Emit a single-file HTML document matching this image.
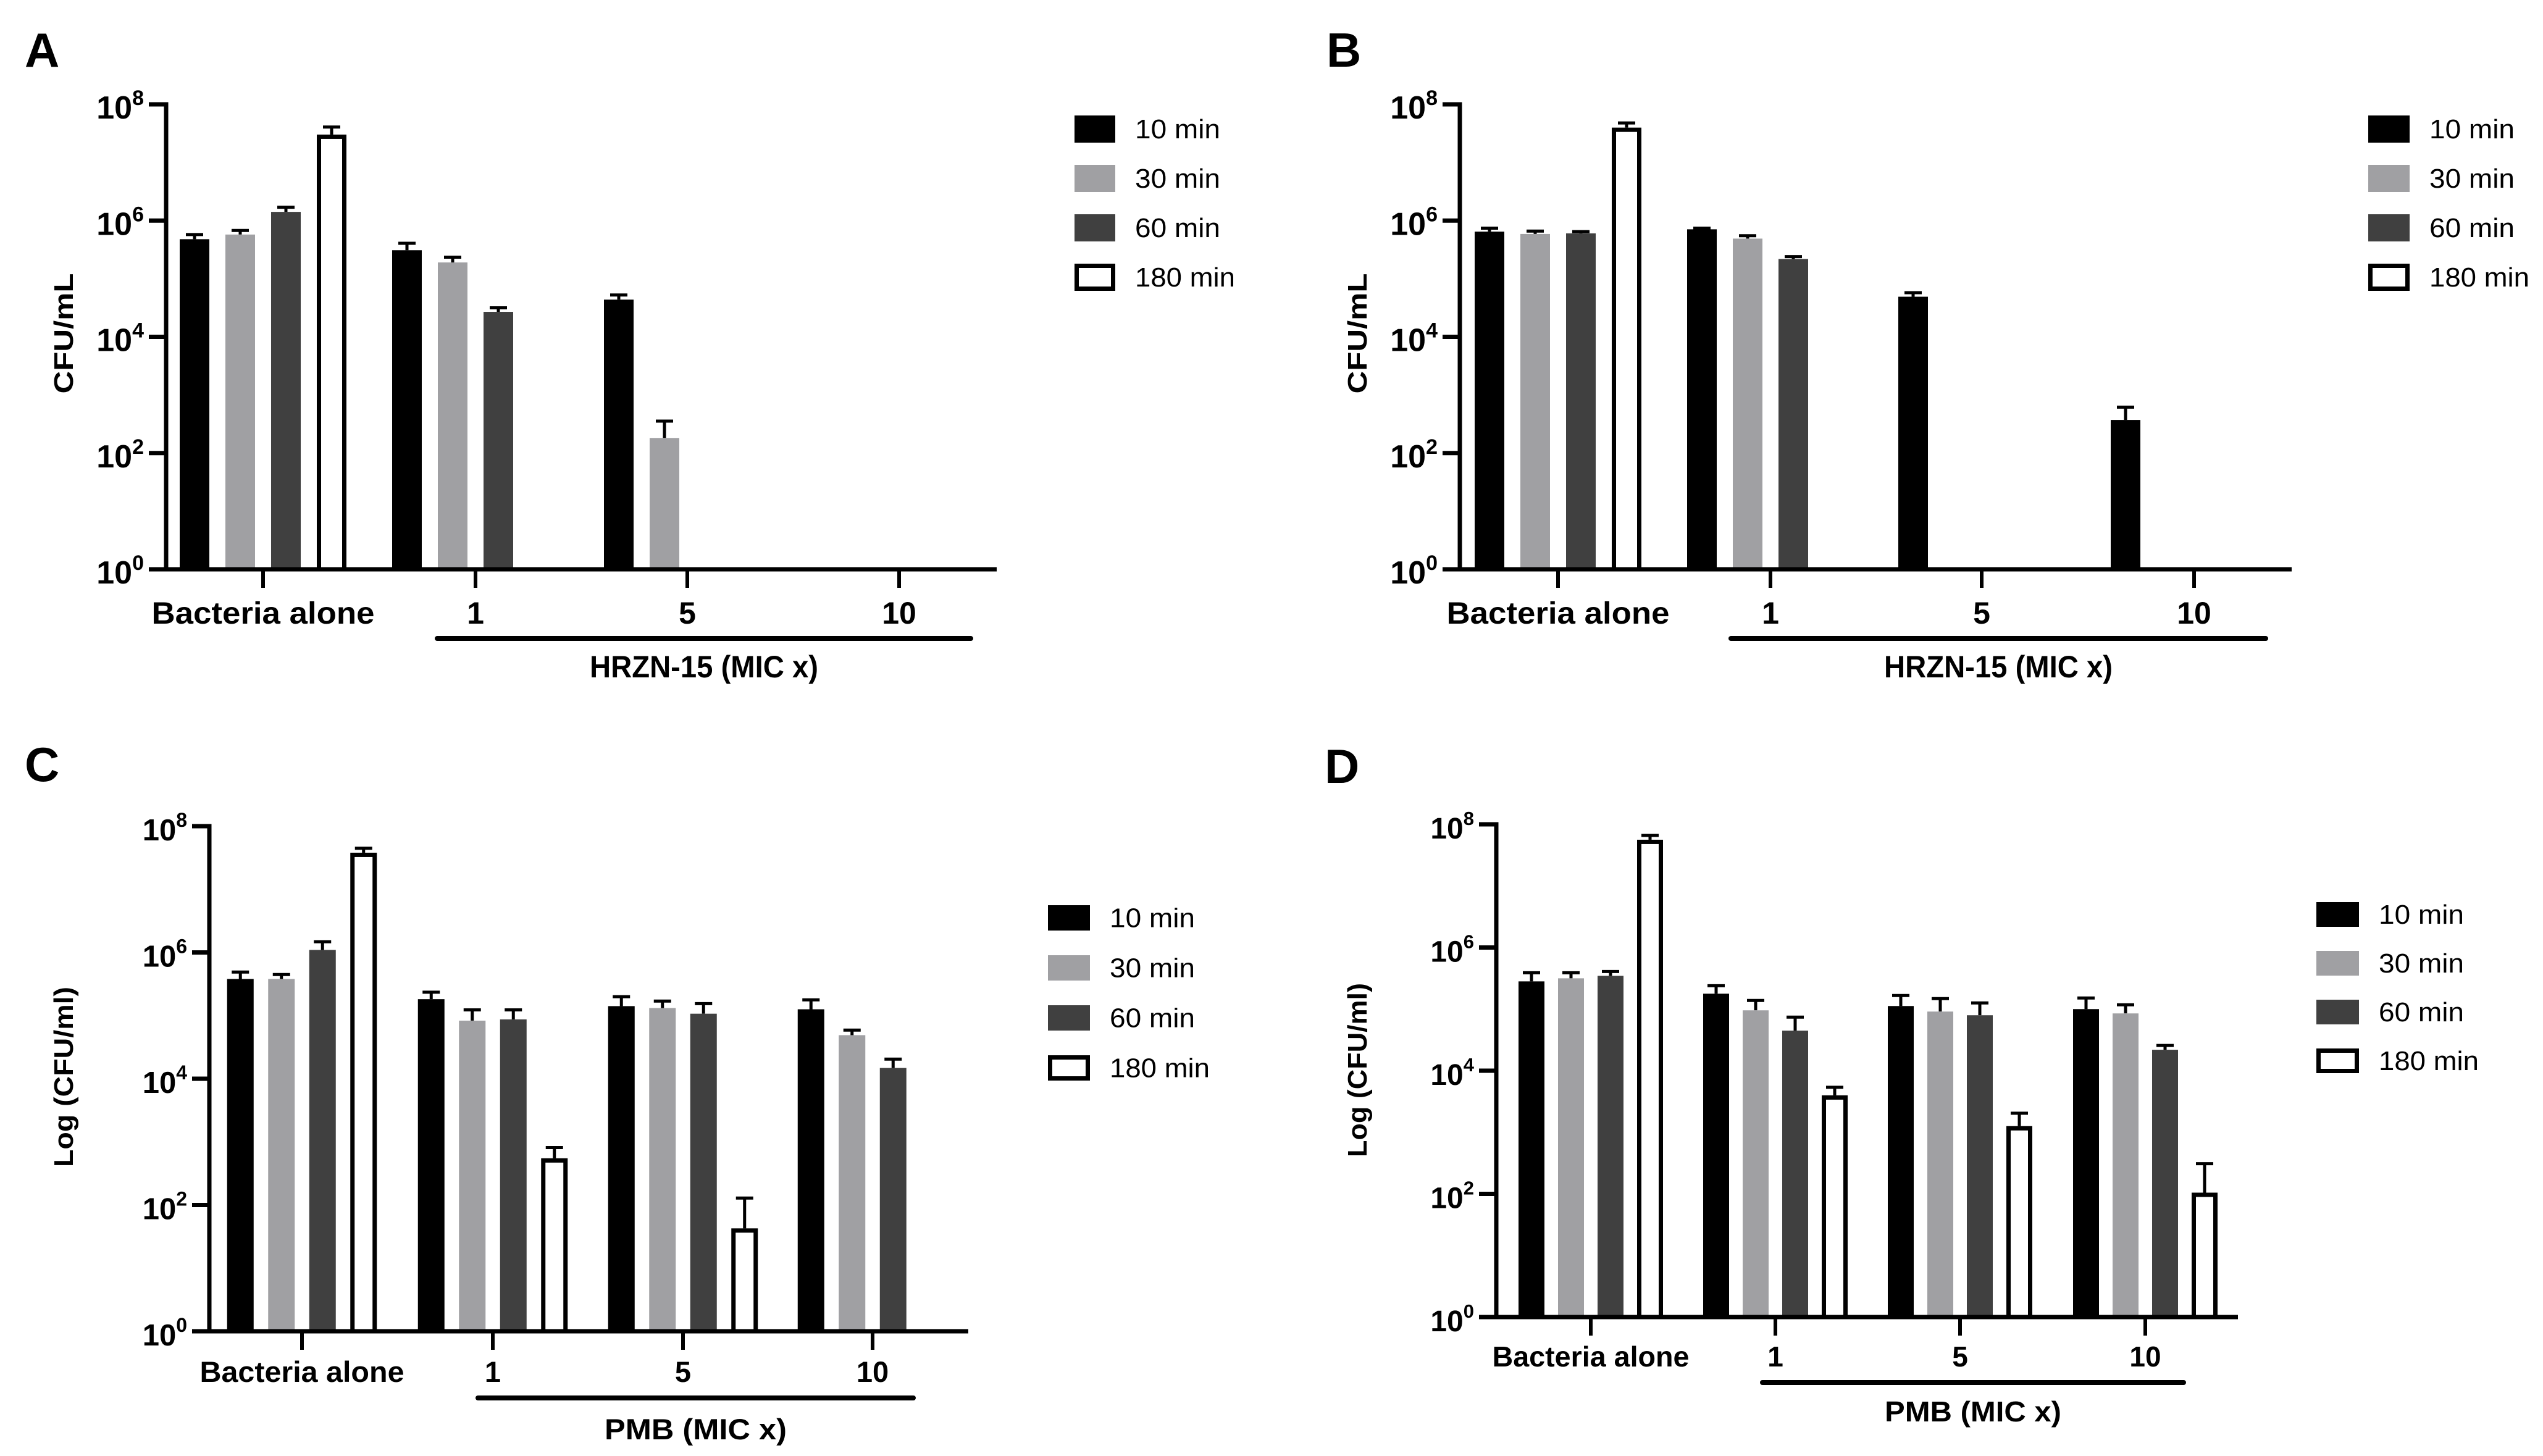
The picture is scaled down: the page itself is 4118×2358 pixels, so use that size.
<!DOCTYPE html>
<html><head><meta charset="utf-8"><style>
html,body{margin:0;padding:0;background:#fff;}
svg{display:block;}
</style></head><body>
<svg id="fig" width="4118" height="2358" viewBox="0 0 4118 2358" xmlns="http://www.w3.org/2000/svg"></svg>
<script>
// Data (log10 CFU values; null = no bar)
const groupsA = ["Bacteria alone","1","5","10"];
const seriesNames = ["10 min","30 min","60 min","180 min"];
const seriesColors = ["#000000","#a0a0a3","#404040","#ffffff"];
const a10 = [5.68,5.49,4.64,null];
const a30 = [5.76,5.28,2.26,null];
const a60 = [6.15,4.43,null,null];
const a180 = [7.48,null,null,null];
const aErr10 = [5.76,5.61,4.72,null];
const aErr30 = [5.83,5.37,2.55,null];
const aErr60 = [6.23,4.50,null,null];
const aErr180 = [7.61,null,null,null];

const b10 = [5.81,5.85,4.69,2.57];
const b30 = [5.77,5.69,null,null];
const b60 = [5.78,5.34,null,null];
const b180 = [7.60,null,null,null];
const bErr10 = [5.87,5.87,4.76,2.79];
const bErr30 = [5.82,5.74,null,null];
const bErr60 = [5.81,5.38,null,null];
const bErr180 = [7.68,null,null,null];

const c10 = [5.58,5.26,5.15,5.10];
const c30 = [5.58,4.92,5.12,4.69];
const c60 = [6.04,4.94,5.03,4.17];
const c180 = [7.58,2.74,1.63,null];
const cErr10 = [5.69,5.37,5.30,5.25];
const cErr30 = [5.65,5.09,5.23,4.77];
const cErr60 = [6.17,5.09,5.19,4.31];
const cErr180 = [7.65,2.91,2.11,null];

const d10 = [5.45,5.25,5.05,5.00];
const d30 = [5.50,4.98,4.96,4.93];
const d60 = [5.54,4.65,4.90,4.34];
const d180 = [7.75,3.60,3.10,2.02];
const dErr10 = [5.59,5.38,5.22,5.18];
const dErr30 = [5.59,5.14,5.17,5.07];
const dErr60 = [5.61,4.87,5.10,4.41];
const dErr180 = [7.82,3.73,3.31,2.49];

const yTickExps = [0,2,4,6,8];

const NS = "http://www.w3.org/2000/svg";
const svg = document.getElementById('fig');
function mk(tag, attrs, parent){
  const e = document.createElementNS(NS, tag);
  for (const k in attrs) e.setAttribute(k, attrs[k]);
  (parent||svg).appendChild(e);
  return e;
}

const panels = [
  {id:'a', letter:'A', lx:40, ly:108, axisX:269, yTop:169, yBot:922, xEnd:1614, centers:[426,770,1113,1456], pitch:74, barW:48,
   vals:[a10,a30,a60,a180], errs:[aErr10,aErr30,aErr60,aErr180], legX:1740, legY:187, legW:66, legH:44, legStep:80,
   tickLblY:1010, lineY:1034, lineX1:708, lineX2:1572, titleY:1097, title:"HRZN-15 (MIC x)", titleW:370, ytitle:"CFU/mL", ytX:118, ytY:540, ytW:195, catW:361, fs:50},
  {id:'b', letter:'B', lx:2148, ly:108, axisX:2364, yTop:169, yBot:922, xEnd:3711, centers:[2523,2867,3209,3553], pitch:74, barW:48,
   vals:[b10,b30,b60,b180], errs:[bErr10,bErr30,bErr60,bErr180], legX:3835, legY:187, legW:67, legH:44, legStep:80,
   tickLblY:1010, lineY:1034, lineX1:2803, lineX2:3669, titleY:1097, title:"HRZN-15 (MIC x)", titleW:370, ytitle:"CFU/mL", ytX:2213, ytY:540, ytW:195, catW:361, fs:50},
  {id:'c', letter:'C', lx:40, ly:1265, axisX:339, yTop:1338, yBot:2156, xEnd:1568, centers:[489,798,1106,1413], pitch:66.5, barW:43,
   vals:[c10,c30,c60,c180], errs:[cErr10,cErr30,cErr60,cErr180], legX:1697, legY:1466, legW:68, legH:41, legStep:81,
   tickLblY:2238, lineY:2264, lineX1:774, lineX2:1479, titleY:2331, title:"PMB (MIC x)", titleW:295, ytitle:"Log (CFU/ml)", ytX:118, ytY:1744, ytW:292, catW:331, fs:47},
  {id:'d', letter:'D', lx:2145, ly:1268, axisX:2423, yTop:1335, yBot:2133, xEnd:3624, centers:[2576,2875,3174,3474], pitch:64, barW:42,
   vals:[d10,d30,d60,d180], errs:[dErr10,dErr30,dErr60,dErr180], legX:3751, legY:1461, legW:69, legH:40, legStep:79,
   tickLblY:2213, lineY:2239, lineX1:2854, lineX2:3536, titleY:2302, title:"PMB (MIC x)", titleW:286, ytitle:"Log (CFU/ml)", ytX:2213, ytY:1733, ytW:282, catW:319, fs:46}
];

const NARROW = '"Liberation Sans Narrow","Liberation Sans",sans-serif';
const SANS = '"Liberation Sans",sans-serif';

panels.forEach(p => {
  const g = mk('g', {});
  
  
  const yScale = v => p.yBot - (v/8)*(p.yBot - p.yTop);

  const letter = mk('text', {x:p.lx, y:p.ly, 'font-family':SANS, 'font-weight':'bold', 'font-size':78, fill:'#000'}, g);
  letter.textContent = p.letter;
  
  

  // bars
  p.vals.forEach((arr, si) => {
    arr.forEach((v, gi) => {
      if (v === null) return;
      const cx = p.centers[gi] + (si - 1.5) * p.pitch;
      const top = yScale(v);
      const errTop = yScale(p.errs[si][gi]);
      const eg = mk('line', {x1:cx, x2:cx, y1:top, y2:errTop, stroke:'#000', 'stroke-width':5}, g);
      
      
      const cap = mk('line', {x1:cx-14, x2:cx+14, y1:errTop, y2:errTop, stroke:'#000', 'stroke-width':5}, g);
      
      
      let r;
      if (si === 3) {
        r = mk('rect', {x:cx - p.barW/2 + 3.5, y:top + 3.5, width:p.barW - 7, height:Math.max(0, p.yBot - top - 3.5), fill:'#fff', stroke:'#000', 'stroke-width':7}, g);
      } else {
        r = mk('rect', {x:cx - p.barW/2, y:top, width:p.barW, height:p.yBot - top, fill:seriesColors[si]}, g);
      }
      
      
    });
  });

  // axes
  const ya = mk('line', {x1:p.axisX, x2:p.axisX, y1:p.yTop - 3.5, y2:p.yBot, stroke:'#000', 'stroke-width':7}, g);
  
  
  const xa = mk('line', {x1:p.axisX - 3.5, x2:p.xEnd, y1:p.yBot, y2:p.yBot, stroke:'#000', 'stroke-width':7}, g);
  
  

  yTickExps.forEach(e => {
    const y = yScale(e);
    const t = mk('line', {x1:p.axisX - 28, x2:p.axisX, y1:y, y2:y, stroke:'#000', 'stroke-width':7}, g);
    
    
    const lbl = mk('text', {x:p.axisX - 36, y:y + 23, 'font-family':SANS, 'font-weight':'bold', 'font-size':p.fs + 2, 'text-anchor':'end', fill:'#000'}, g);
    const t1 = mk('tspan', {}, lbl); t1.textContent = '10';
    const t2 = mk('tspan', {dy:-22, 'font-size':Math.round(p.fs*0.68)}, lbl); t2.textContent = String(e);
    
    
  });

  groupsA.forEach((name, gi) => {
    const x = p.centers[gi];
    const t = mk('line', {x1:x, x2:x, y1:p.yBot, y2:p.yBot + 30, stroke:'#000', 'stroke-width':6}, g);
    
    
    const attrs = {x:x, y:p.tickLblY, 'font-family':NARROW, 'font-weight':'bold', 'font-size':p.fs, 'text-anchor':'middle', fill:'#000'};
    if (gi === 0) { attrs.textLength = p.catW; attrs.lengthAdjust = 'spacingAndGlyphs'; }
    const lbl = mk('text', attrs, g);
    lbl.textContent = name;
    
    
  });

  const bl = mk('line', {x1:p.lineX1, x2:p.lineX2, y1:p.lineY, y2:p.lineY, stroke:'#000', 'stroke-width':8, 'stroke-linecap':'round'}, g);
  
  
  const xt = mk('text', {x:(p.lineX1 + p.lineX2)/2, y:p.titleY, 'font-family':NARROW, 'font-weight':'bold', 'font-size':p.fs, 'text-anchor':'middle', textLength:p.titleW, lengthAdjust:'spacingAndGlyphs', fill:'#000'}, g);
  xt.textContent = p.title;
  
  

  const yt = mk('text', {x:0, y:0, transform:'translate(' + p.ytX + ',' + p.ytY + ') rotate(-90)', 'font-family':SANS, 'font-weight':'bold', 'font-size':44, 'text-anchor':'middle', textLength:p.ytW, lengthAdjust:'spacingAndGlyphs', fill:'#000'}, g);
  yt.textContent = p.ytitle;
  
  

  seriesNames.forEach((n, si) => {
    const y = p.legY + si * p.legStep;
    let r;
    if (si === 3) r = mk('rect', {x:p.legX + 3.5, y:y + 3.5, width:p.legW - 7, height:p.legH - 7, fill:'#fff', stroke:'#000', 'stroke-width':7}, g);
    else r = mk('rect', {x:p.legX, y:y, width:p.legW, height:p.legH, fill:seriesColors[si]}, g);
    
    
    const txt = mk('text', {x:p.legX + p.legW + 32, y:y + p.legH/2 + 15, 'font-family':SANS, 'font-size':44, fill:'#000', textLength: si === 3 ? 162 : 138, lengthAdjust:'spacingAndGlyphs'}, g);
    txt.textContent = n;
    
    
  });
});
</script>
</body></html>
